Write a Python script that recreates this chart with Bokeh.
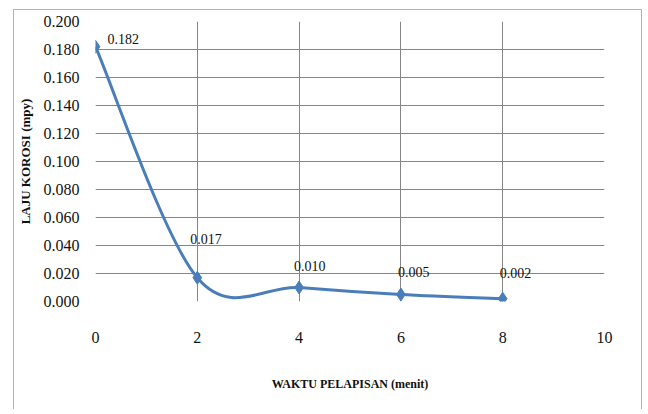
from bokeh.plotting import figure
from bokeh.models import FixedTicker, ColumnDataSource, InlineStyleSheet
from bokeh.core.properties import value
from bokeh.embed import file_html
from bokeh.resources import INLINE

# data
waktu = [0, 2, 4, 6, 8]
laju = [0.182, 0.017, 0.010, 0.005, 0.002]
labels = ["0.182", "0.017", "0.010", "0.005", "0.002"]
x_ticks = [0, 2, 4, 6, 8, 10]
y_ticks = [0.0, 0.02, 0.04, 0.06, 0.08, 0.10, 0.12, 0.14, 0.16, 0.18, 0.20]

# style offsets for data labels (screen px)
lab_dx = [12, -7, -5, -3, -3]
lab_dy = [-8, -39, -22, -23, -26]

BLUE = "#4A7EBB"
SERIF = "Liberation Serif"

p = figure(width=629, height=400, output_backend="svg", toolbar_location=None,
           x_range=(0, 10), y_range=(0, 0.2),
           min_border_left=79, min_border_right=39, min_border_top=11, min_border_bottom=109)
p.stylesheets = [InlineStyleSheet(css=":host { box-sizing: border-box; margin-left: 13px; margin-top: 9px; border-left: 1px solid #b4b4b4; border-top: 1px solid #b4b4b4; border-right: 1px solid #b4b4b4; }")]
p.outline_line_color = None
p.background_fill_color = "white"
p.border_fill_color = "white"

# grids
p.xgrid.ticker = FixedTicker(ticks=[2, 4, 6, 8, 10])
p.ygrid.ticker = FixedTicker(ticks=y_ticks)
for g in (p.xgrid, p.ygrid):
    g.grid_line_color = "#868686"
    g.grid_line_width = 1

# axes
p.xaxis.ticker = FixedTicker(ticks=x_ticks)
p.yaxis.ticker = FixedTicker(ticks=y_ticks)
p.yaxis.major_label_overrides = {t: f"{t:.3f}" for t in y_ticks}
for ax in (p.xaxis, p.yaxis):
    ax.axis_line_color = None
    ax.major_tick_line_color = None
    ax.minor_tick_line_color = None
    ax.major_label_text_font = SERIF
    ax.major_label_text_font_size = "16px"
    ax.major_label_text_color = "#111111"
    ax.axis_label_text_font = SERIF
    ax.axis_label_text_font_style = "bold"
    ax.axis_label_text_color = "#111111"
p.xaxis.axis_label_text_font_size = "12px"
p.yaxis.axis_label_text_font_size = "13px"
p.xaxis.major_label_standoff = 24
p.yaxis.major_label_standoff = 10
p.xaxis.axis_label = "WAKTU PELAPISAN (menit)"
p.yaxis.axis_label = "LAJU KOROSI (mpy)"
p.xaxis.axis_label_standoff = 31
p.yaxis.axis_label_standoff = 8

# smoothed line (Catmull-Rom style Bezier segments, as in spreadsheet "smooth line")
n = len(waktu)
x0s, y0s, x1s, y1s, cx0s, cy0s, cx1s, cy1s = [], [], [], [], [], [], [], []
for i in range(n - 1):
    pm = max(i - 1, 0)
    pp = min(i + 2, n - 1)
    x0s.append(waktu[i]); y0s.append(laju[i])
    x1s.append(waktu[i + 1]); y1s.append(laju[i + 1])
    cx0s.append(waktu[i] + (waktu[i + 1] - waktu[pm]) / 6)
    cy0s.append(laju[i] + (laju[i + 1] - laju[pm]) / 6)
    cx1s.append(waktu[i + 1] - (waktu[pp] - waktu[i]) / 6)
    cy1s.append(laju[i + 1] - (laju[pp] - laju[i]) / 6)
p.bezier(x0=x0s, y0=y0s, x1=x1s, y1=y1s, cx0=cx0s, cy0=cy0s, cx1=cx1s, cy1=cy1s,
         line_color=BLUE, line_width=3)

src = ColumnDataSource(dict(x=waktu, y=laju, t=labels, dx=lab_dx, dy=lab_dy))
p.scatter("x", "y", source=src, marker="diamond", size=13, fill_color=BLUE, line_color=BLUE)
p.text("x", "y", text="t", source=src, x_offset="dx", y_offset="dy",
       text_font=value(SERIF), text_font_size="14px", text_color="#111111",
       text_align="left", text_baseline="middle")

open("out.html", "w").write(file_html(p, INLINE))
